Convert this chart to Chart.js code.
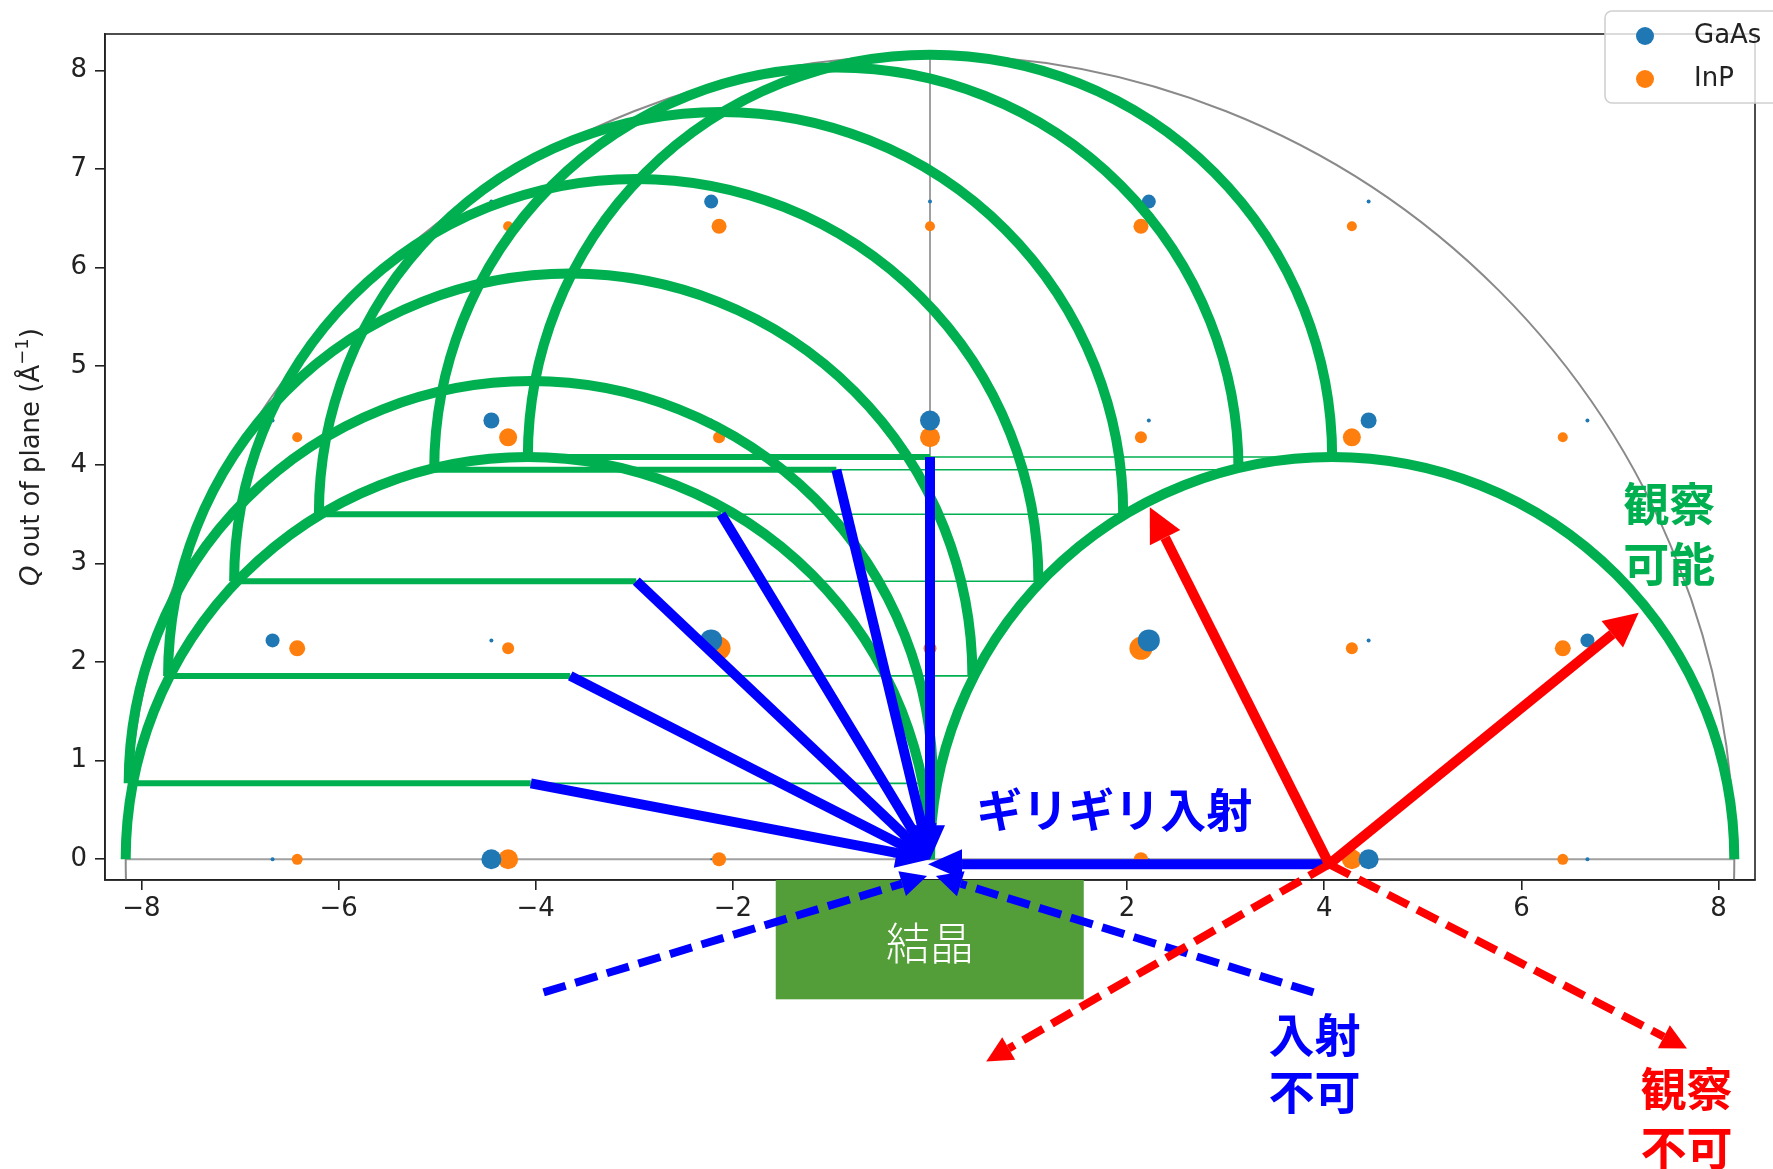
<!DOCTYPE html>
<html>
<head>
<meta charset="utf-8">
<script src="https://cdn.jsdelivr.net/npm/chart.js@4.4.0/dist/chart.umd.min.js"></script>
<style>
  html, body { margin: 0; padding: 0; background: #fff; }
  #wrap { width: 1773px; height: 1169px; }
</style>
</head>
<body>
<div id="wrap"><canvas id="chart" width="1773" height="1169"></canvas></div>
<script>
// reciprocal lattice points: Q in plane, Q out of plane, marker radius
const gaasQx   = [-6.67, -4.45, -2.22, 2.22, 4.45, 6.67,
                  -6.67, -4.45, -2.22, 0, 2.22, 4.45, 6.67,
                  -6.67, -4.45, -2.22, 0, 2.22, 4.45, 6.67,
                  -4.45, -2.22, 0, 2.22, 4.45];
const gaasQz   = [0, 0, 0, 0, 0, 0,
                  2.22, 2.22, 2.22, 2.22, 2.22, 2.22, 2.22,
                  4.45, 4.45, 4.45, 4.45, 4.45, 4.45, 4.45,
                  6.67, 6.67, 6.67, 6.67, 6.67];
const gaasSize = [2, 10, 1, 1, 10, 2,
                  7, 2, 11, 1, 11, 2, 7,
                  2, 8, 2, 10, 2, 8, 2,
                  2, 7, 2, 7, 2];

const inpQx   = [-6.42, -4.28, -2.14, 2.14, 4.28, 6.42,
                 -6.42, -4.28, -2.14, 0, 2.14, 4.28, 6.42,
                 -6.42, -4.28, -2.14, 0, 2.14, 4.28, 6.42,
                 -4.28, -2.14, 0, 2.14, 4.28];
const inpQz   = [0, 0, 0, 0, 0, 0,
                 2.14, 2.14, 2.14, 2.14, 2.14, 2.14, 2.14,
                 4.28, 4.28, 4.28, 4.28, 4.28, 4.28, 4.28,
                 6.42, 6.42, 6.42, 6.42, 6.42];
const inpSize = [5.5, 10, 7, 7, 10, 5.5,
                 8, 6, 11.5, 6.5, 11.5, 6, 8,
                 5, 9, 6, 10, 6, 9, 5,
                 5, 7.5, 5, 7.5, 5];

const xTicks = [-8, -6, -4, -2, 0, 2, 4, 6, 8];
const yTicks = [0, 1, 2, 3, 4, 5, 6, 7, 8];

// Ewald construction (1/Å)
const kRadius = 4.08;          // Ewald sphere radius
const limitRadius = 8.16;      // limiting sphere
const ewaldCx = [-4.08, -4.05, -3.65, -2.98, -2.12, -0.95, 0, 4.08];
const ewaldCy = [0, 0.77, 1.86, 2.82, 3.50, 3.95, 4.08, 0];
// incident beams drawn from sphere centre to origin
const beamFromX = [-4.05, -3.65, -2.98, -2.12, -0.95, 0];
const beamFromY = [0.77, 1.86, 2.82, 3.50, 3.95, 4.08];
// grazing incidence and diffracted beams from the right sphere
const grazeFrom = [4.05, -0.05];
const grazeTo = [-0.02, -0.05];
const outTipX = [2.23, 7.19];
const outTipY = [3.57, 2.50];
const lostTipX = [0.57, 7.68];
const lostTipY = [-2.05, -1.92];
const badInTailX = [-3.92, 3.89];
const badInTailY = [-1.35, -1.35];
const badInTipX = [-0.03, 0.06];
const badInTipY = [-0.17, -0.17];
const crystalX = [-1.565, 1.56];
const crystalY = [-0.21, -1.42];

const GREEN = '#00B050', BLUE = '#0000FF', RED = '#FF0000';
const JP = '"Noto Sans CJK JP", sans-serif';
const DV = '"DejaVu Sans", sans-serif';

function fmt(v) { return v < 0 ? '\u2212' + Math.abs(v) : String(v); }

function arrow(ctx, x1, y1, x2, y2, color, width, headLen, headW, dash) {
  const dx = x2 - x1, dy = y2 - y1, L = Math.hypot(dx, dy);
  const ux = dx / L, uy = dy / L;
  const bx = x2 - ux * headLen, by = y2 - uy * headLen;
  ctx.save();
  ctx.strokeStyle = color; ctx.fillStyle = color; ctx.lineWidth = width;
  ctx.setLineDash(dash || []);
  ctx.beginPath(); ctx.moveTo(x1, y1); ctx.lineTo(bx, by); ctx.stroke();
  ctx.setLineDash([]);
  ctx.beginPath();
  ctx.moveTo(x2, y2);
  ctx.lineTo(bx - uy * headW / 2, by + ux * headW / 2);
  ctx.lineTo(bx + uy * headW / 2, by - ux * headW / 2);
  ctx.closePath(); ctx.fill();
  ctx.restore();
}

const ewaldPlugin = {
  id: 'ewald',
  beforeDatasetsDraw(chart) {
    const ctx = chart.ctx, ca = chart.chartArea;
    const X = v => chart.scales.x.getPixelForValue(v), Y = v => chart.scales.y.getPixelForValue(v);
    ctx.save();
    ctx.beginPath(); ctx.rect(ca.left, ca.top, ca.right - ca.left, ca.bottom - ca.top); ctx.clip();
    ctx.strokeStyle = '#a0a0a0'; ctx.lineWidth = 2;
    ctx.beginPath(); ctx.moveTo(X(-limitRadius), Y(0)); ctx.lineTo(X(limitRadius), Y(0)); ctx.stroke();
    ctx.beginPath(); ctx.moveTo(X(0), Y(0)); ctx.lineTo(X(0), Y(limitRadius)); ctx.stroke();
    ctx.strokeStyle = '#8a8a8a'; ctx.lineWidth = 2;
    ctx.beginPath();
    ctx.ellipse(X(0), Y(0), X(limitRadius) - X(0), Y(0) - Y(limitRadius), 0, 0, Math.PI * 2);
    ctx.stroke();
    ctx.restore();
  },
  afterDatasetsDraw(chart) {
    const ctx = chart.ctx;
    const X = v => chart.scales.x.getPixelForValue(v), Y = v => chart.scales.y.getPixelForValue(v);
    const rx = X(kRadius) - X(0), ry = Y(0) - Y(kRadius);
    ctx.save();
    // Ewald spheres (upper halves)
    ctx.strokeStyle = GREEN; ctx.lineWidth = 10;
    ewaldCx.forEach((cx, i) => {
      ctx.beginPath();
      ctx.ellipse(X(cx), Y(ewaldCy[i]), rx, ry, 0, Math.PI, Math.PI * 2);
      ctx.stroke();
    });
    // horizontal diameters: thick on the left, thin on the right
    beamFromX.forEach((cx, i) => {
      const cy = Y(beamFromY[i]);
      ctx.lineWidth = 6;
      ctx.beginPath(); ctx.moveTo(X(cx - kRadius), cy); ctx.lineTo(X(cx), cy); ctx.stroke();
      ctx.lineWidth = 1.6;
      ctx.beginPath(); ctx.moveTo(X(cx), cy); ctx.lineTo(X(cx + kRadius), cy); ctx.stroke();
    });
    ctx.restore();
    // incident beams
    beamFromX.forEach((bx, i) => arrow(ctx, X(bx), Y(beamFromY[i]), X(0), Y(0), BLUE, 10, 34, 30));
    arrow(ctx, X(grazeFrom[0]), Y(grazeFrom[1]), X(grazeTo[0]), Y(grazeTo[1]), BLUE, 10, 34, 30);
    // diffracted beams
    outTipX.forEach((tx, i) => arrow(ctx, X(grazeFrom[0]), Y(grazeFrom[1]), X(tx), Y(outTipY[i]), RED, 10, 34, 34));
  },
  afterDraw(chart) {
    const ctx = chart.ctx, ca = chart.chartArea;
    const X = v => chart.scales.x.getPixelForValue(v), Y = v => chart.scales.y.getPixelForValue(v);
    // axes frame
    ctx.save();
    ctx.strokeStyle = '#222'; ctx.lineWidth = 1.6;
    ctx.strokeRect(ca.left, ca.top, ca.right - ca.left, ca.bottom - ca.top);
    ctx.restore();

    // crystal block
    ctx.save();
    ctx.fillStyle = '#549E39';
    ctx.fillRect(X(crystalX[0]), Y(crystalY[0]), X(crystalX[1]) - X(crystalX[0]), Y(crystalY[1]) - Y(crystalY[0]));
    ctx.fillStyle = '#fff'; ctx.font = '300 44px ' + JP;
    ctx.textAlign = 'center'; ctx.textBaseline = 'middle';
    ctx.fillText('結晶', X(0), Y(-0.85));
    ctx.restore();

    // forbidden incidence / unobservable exits
    badInTailX.forEach((tx, i) => arrow(ctx, X(tx), Y(badInTailY[i]), X(badInTipX[i]), Y(badInTipY[i]), BLUE, 8, 26, 26, [23, 10]));
    lostTipX.forEach((tx, i) => arrow(ctx, X(grazeFrom[0]), Y(grazeFrom[1]), X(tx), Y(lostTipY[i]), RED, 8, 26, 26, [23, 10]));

    // annotations
    ctx.save();
    ctx.textAlign = 'center'; ctx.textBaseline = 'middle';
    ctx.font = 'bold 46px ' + JP;
    ctx.fillStyle = BLUE;
    ctx.fillText('ギリギリ入射', X(1.87), Y(0.50));
    ctx.fillText('入射', X(3.90), Y(-1.775));
    ctx.fillText('不可', X(3.90), Y(-2.36));
    ctx.fillStyle = GREEN;
    ctx.fillText('観察', X(7.50), Y(3.61));
    ctx.fillText('可能', X(7.50), Y(3.00));
    ctx.fillStyle = RED;
    ctx.fillText('観察', X(7.675), Y(-2.32));
    ctx.fillText('不可', X(7.675), Y(-2.92));
    ctx.restore();

    // y axis title
    ctx.save();
    ctx.translate(32, (ca.top + ca.bottom) / 2);
    ctx.rotate(-Math.PI / 2);
    ctx.fillStyle = '#222'; ctx.textBaseline = 'middle'; ctx.textAlign = 'left';
    const parts = [
      { t: 'Q', f: 'italic 26px ' + DV, dy: 0 },
      { t: ' out of plane (Å', f: '26px ' + DV, dy: 0 },
      { t: '\u22121', f: '18px ' + DV, dy: -9 },
      { t: ')', f: '26px ' + DV, dy: 0 }
    ];
    let total = 0;
    parts.forEach(p => { ctx.font = p.f; p.w = ctx.measureText(p.t).width; total += p.w; });
    let x = -total / 2;
    parts.forEach(p => { ctx.font = p.f; ctx.fillText(p.t, x, p.dy); x += p.w; });
    ctx.restore();

    // legend
    ctx.save();
    const lx = 1605, ly = 11, lw = 200, lh = 92, r = 7;
    ctx.beginPath();
    ctx.moveTo(lx + r, ly); ctx.lineTo(lx + lw, ly); ctx.lineTo(lx + lw, ly + lh);
    ctx.lineTo(lx + r, ly + lh); ctx.arcTo(lx, ly + lh, lx, ly + lh - r, r);
    ctx.lineTo(lx, ly + r); ctx.arcTo(lx, ly, lx + r, ly, r); ctx.closePath();
    ctx.fillStyle = 'rgba(255,255,255,0.8)'; ctx.fill();
    ctx.strokeStyle = '#d0d0d0'; ctx.lineWidth = 1.6; ctx.stroke();
    chart.data.datasets.forEach((ds, i) => {
      const yy = 36 + i * 43;
      ctx.fillStyle = ds.backgroundColor;
      ctx.beginPath(); ctx.arc(1645, yy, 9, 0, Math.PI * 2); ctx.fill();
      ctx.fillStyle = '#222'; ctx.font = '26px ' + DV; ctx.textBaseline = 'middle';
      ctx.fillText(ds.label, 1694, yy);
    });
    ctx.restore();
  }
};

const tickFont = { family: 'DejaVu Sans', size: 26 };
new Chart(document.getElementById('chart'), {
  type: 'scatter',
  data: {
    datasets: [
      { label: 'GaAs', data: gaasQx.map((x, i) => ({ x: x, y: gaasQz[i] })),
        backgroundColor: '#1f77b4', borderWidth: 0, pointRadius: gaasSize },
      { label: 'InP', data: inpQx.map((x, i) => ({ x: x, y: inpQz[i] })),
        backgroundColor: '#ff7f0e', borderWidth: 0, pointRadius: inpSize }
    ]
  },
  options: {
    responsive: false,
    devicePixelRatio: 1,
    animation: false,
    layout: { padding: { top: 34, right: 18, left: 0, bottom: 0 } },
    plugins: { legend: { display: false }, tooltip: { enabled: false } },
    scales: {
      x: {
        type: 'linear', min: -8.37, max: 8.37,
        afterBuildTicks: s => { s.ticks = xTicks.map(v => ({ value: v })); },
        afterFit: s => { s.height = 289; },
        ticks: { font: tickFont, color: '#222', padding: 4, autoSkip: false, maxRotation: 0, callback: v => fmt(v) },
        grid: { drawOnChartArea: false, tickLength: 10, color: '#222', lineWidth: 1.6 },
        border: { color: '#222', width: 1.6 }
      },
      y: {
        type: 'linear', min: -0.21, max: 8.37,
        afterBuildTicks: s => { s.ticks = yTicks.map(v => ({ value: v })); },
        afterFit: s => { s.width = 105; },
        ticks: { font: tickFont, color: '#222', padding: 8, autoSkip: false, callback: v => fmt(v) },
        grid: { drawOnChartArea: false, tickLength: 10, color: '#222', lineWidth: 1.6 },
        border: { color: '#222', width: 1.6 }
      }
    }
  },
  plugins: [ewaldPlugin]
});
</script>
</body>
</html>
